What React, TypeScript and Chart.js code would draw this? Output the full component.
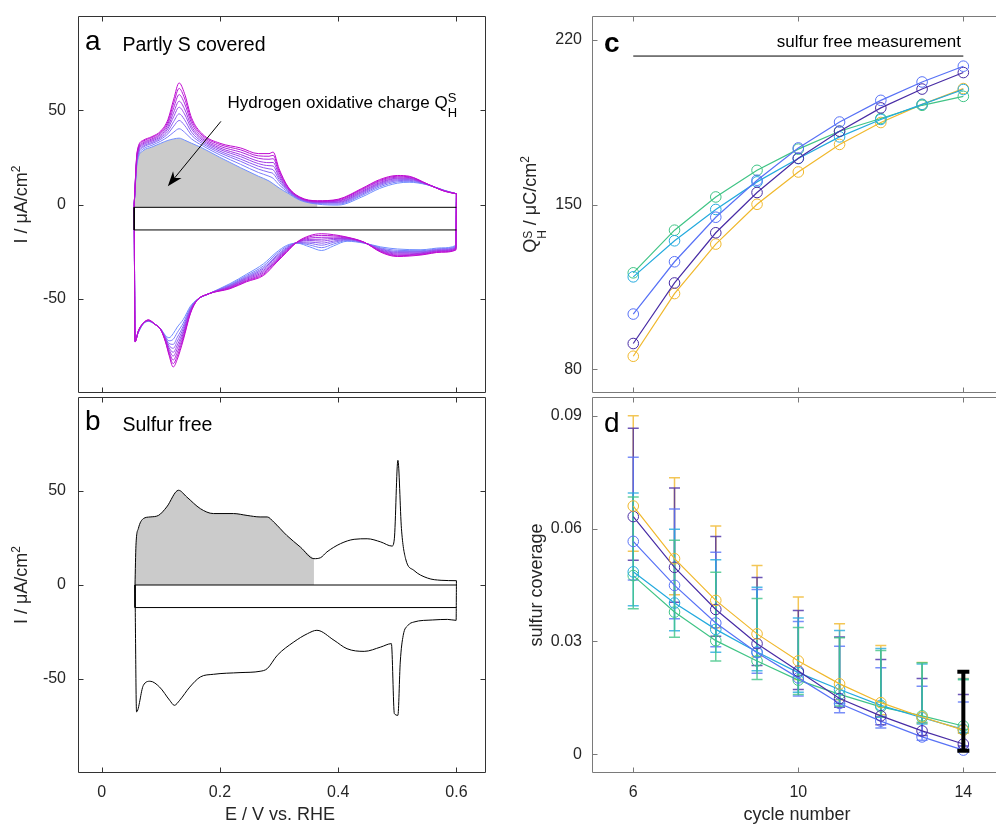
import React, { useEffect, useRef } from 'react';
import { Chart, registerables } from 'chart.js';

Chart.register(...registerables);

const W = 1020;
const H = 828;
const FONT = '"Liberation Sans", Arial, Helvetica, sans-serif';
const INK = '#262626';
Chart.defaults.font.family = FONT;

// ---------------- Panel a: partly S covered CVs (cycles 6..14) ----------------
const cvCycles = [6, 7, 8, 9, 10, 11, 12, 13, 14];
const anodicE = [0.055, 0.06, 0.07, 0.085, 0.1, 0.112, 0.122, 0.131, 0.14, 0.152, 0.17, 0.2, 0.235, 0.265, 0.283, 0.29, 0.3, 0.315, 0.335, 0.365, 0.4, 0.44, 0.47, 0.5, 0.52, 0.55, 0.58, 0.6];
const anodicC6 = [0, 22, 28.5, 30.5, 32.5, 34, 34.8, 35.2, 34.2, 32.5, 30, 25, 19.5, 15, 12.5, 11, 8.8, 6, 2.3, 0.2, -0.3, 4, 8.5, 11.3, 11.8, 10.5, 7.5, 5.7];
const anodicC7 = [0, 23.0, 29.4, 31.4, 33.6, 35.9, 38.4, 40.2, 38.4, 34.8, 31.3, 26.3, 21.3, 17.0, 15.0, 13.9, 10.5, 6.6, 2.6, 0.5, 0.2, 4.8, 9.3, 12.0, 12.3, 10.6, 7.4, 5.7];
const anodicC8 = [0, 23.9, 30.3, 32.3, 34.6, 37.5, 41.6, 44.6, 42.1, 36.8, 32.4, 27.4, 22.9, 18.8, 17.1, 16.4, 12.1, 7.1, 2.8, 0.8, 0.7, 5.4, 10.0, 12.6, 12.8, 10.7, 7.3, 5.7];
const anodicC9 = [0, 24.6, 30.9, 32.9, 35.4, 38.8, 44.1, 48.1, 45.1, 38.4, 33.3, 28.3, 24.1, 20.3, 18.9, 18.4, 13.3, 7.5, 3.0, 1.0, 1.1, 6.0, 10.6, 13.1, 13.2, 10.7, 7.3, 5.7];
const anodicC10 = [0, 25.4, 31.6, 33.6, 36.1, 40.2, 46.7, 51.6, 48.1, 40.1, 34.2, 29.2, 25.4, 21.7, 20.6, 20.4, 14.5, 8.0, 3.3, 1.2, 1.4, 6.5, 11.1, 13.6, 13.6, 10.8, 7.2, 5.7];
const anodicC11 = [0, 26.0, 32.2, 34.2, 36.9, 41.4, 49.0, 54.8, 50.8, 41.5, 35.0, 30.0, 26.5, 23.0, 22.2, 22.3, 15.6, 8.3, 3.4, 1.4, 1.8, 7.0, 11.6, 14.0, 13.9, 10.8, 7.2, 5.7];
const anodicC12 = [0, 26.7, 32.8, 34.8, 37.6, 42.7, 51.5, 58.3, 53.8, 43.2, 35.9, 30.9, 27.8, 24.5, 24.0, 24.3, 16.9, 8.8, 3.6, 1.6, 2.1, 7.6, 12.2, 14.5, 14.3, 10.9, 7.1, 5.7];
const anodicC13 = [0, 27.4, 33.5, 35.5, 38.4, 43.9, 53.9, 61.6, 56.5, 44.7, 36.8, 31.8, 29.0, 25.8, 25.6, 26.1, 18.0, 9.2, 3.8, 1.8, 2.5, 8.1, 12.7, 15.0, 14.7, 11.0, 7.1, 5.7];
const anodicC14 = [0, 28, 34, 36, 39, 45, 56, 64.5, 59, 46, 37.5, 32.5, 30, 27, 27, 27.8, 19, 9.5, 4, 2, 2.8, 8.5, 13.2, 15.4, 15, 11, 7, 5.7];

const cathodicE = [0.055, 0.0565, 0.062, 0.07, 0.079, 0.09, 0.1, 0.108, 0.114, 0.121, 0.128, 0.138, 0.15, 0.161, 0.18, 0.217, 0.245, 0.274, 0.295, 0.313, 0.33, 0.352, 0.372, 0.392, 0.415, 0.444, 0.472, 0.5, 0.54, 0.575, 0.599, 0.6];
const cathodicC6 = [0, -72, -68, -63.5, -62, -63.5, -66, -69.5, -70.7, -68.5, -65, -61, -54, -50.5, -47.5, -42, -37, -31.4, -25.5, -21.7, -20.5, -22.5, -24.4, -22, -19.5, -20.5, -22.5, -23.6, -24, -23, -21.7, 5.7];
const cathodicC7 = [0, -72.2, -67.8, -63.4, -61.9, -63.5, -66.1, -70.1, -72.3, -71.5, -67.9, -62.9, -54.7, -50.6, -47.5, -42.5, -37.7, -32.5, -26.4, -22.3, -20.4, -21.5, -22.9, -21.0, -19.1, -20.4, -23.0, -24.3, -24.5, -23.4, -22.1, 5.7];
const cathodicC8 = [0, -72.3, -67.7, -63.3, -61.7, -63.5, -66.2, -70.6, -73.7, -74.2, -70.4, -64.5, -55.3, -50.7, -47.5, -42.9, -38.3, -33.4, -27.3, -22.9, -20.3, -20.6, -21.6, -20.1, -18.8, -20.3, -23.4, -24.9, -24.9, -23.7, -22.5, 5.7];
const cathodicC9 = [0, -72.4, -67.6, -63.3, -61.6, -63.5, -66.2, -71.0, -74.8, -76.3, -72.5, -65.8, -55.8, -50.7, -47.5, -43.2, -38.8, -34.1, -27.9, -23.3, -20.3, -19.9, -20.5, -19.4, -18.5, -20.3, -23.7, -25.4, -25.2, -24.0, -22.8, 5.7];
const cathodicC10 = [0, -72.6, -67.4, -63.2, -61.6, -63.5, -66.3, -71.5, -75.9, -78.4, -74.5, -67.2, -56.2, -50.8, -47.5, -43.5, -39.2, -34.9, -28.6, -23.7, -20.2, -19.1, -19.4, -18.6, -18.3, -20.2, -24.1, -25.8, -25.6, -24.3, -23.1, 5.7];
const cathodicC11 = [0, -72.7, -67.3, -63.2, -61.5, -63.5, -66.3, -71.8, -76.9, -80.4, -76.4, -68.4, -56.7, -50.8, -47.5, -43.8, -39.7, -35.6, -29.2, -24.1, -20.2, -18.5, -18.4, -18.0, -18.0, -20.2, -24.4, -26.3, -25.9, -24.5, -23.4, 5.7];
const cathodicC12 = [0, -72.8, -67.2, -63.1, -61.4, -63.5, -66.4, -72.3, -78.0, -82.5, -78.4, -69.7, -57.2, -50.9, -47.5, -44.1, -40.2, -36.3, -29.8, -24.5, -20.1, -17.8, -17.4, -17.3, -17.8, -20.1, -24.7, -26.8, -26.2, -24.8, -23.7, 5.7];
const cathodicC13 = [0, -72.9, -67.1, -63.1, -61.3, -63.5, -66.5, -72.7, -79.1, -84.4, -80.3, -70.9, -57.6, -51.0, -47.5, -44.4, -40.6, -37.0, -30.5, -24.9, -20.1, -17.1, -16.4, -16.6, -17.5, -20.1, -25.0, -27.2, -26.5, -25.1, -23.9, 5.7];
const cathodicC14 = [0, -73, -67, -63, -61.2, -63.5, -66.5, -73, -80, -86.2, -82, -72, -58, -51, -47.5, -44.7, -41, -37.6, -31, -25.3, -20, -16.5, -15.5, -16, -17.3, -20, -25.3, -27.6, -26.8, -25.3, -24.2, 5.7];

const anodicAll = [anodicC6, anodicC7, anodicC8, anodicC9, anodicC10, anodicC11, anodicC12, anodicC13, anodicC14];
const cathodicAll = [cathodicC6, cathodicC7, cathodicC8, cathodicC9, cathodicC10, cathodicC11, cathodicC12, cathodicC13, cathodicC14];
const chargeFillEndA = 0.365; // upper potential limit of the shaded H-oxidation charge
const boxA = { left: 0.055, right: 0.6, top: -1.5, bottom: -13.5 };

// ---------------- Panel b: sulfur free CV ----------------
const freeAnodicE = [0.0564, 0.058, 0.062, 0.0705, 0.082, 0.096, 0.11, 0.13, 0.144, 0.167, 0.189, 0.223, 0.246, 0.268, 0.28, 0.291, 0.313, 0.336, 0.359, 0.37, 0.381, 0.404, 0.427, 0.449, 0.472, 0.491, 0.495, 0.501, 0.507, 0.514, 0.528, 0.551, 0.574, 0.6];
const freeAnodicI = [0, 21, 30, 35.3, 36.2, 37, 41.5, 50.4, 46.8, 40.6, 38, 38, 37, 36.2, 36.2, 33.5, 26.4, 20.2, 14, 14.5, 17.6, 22, 24.3, 24.6, 22.9, 20.7, 24.6, 66.3, 30, 14, 7.8, 3.7, 2.5, 2.3];
const freeCathodicE = [0.0564, 0.059, 0.0705, 0.082, 0.098, 0.115, 0.123, 0.132, 0.149, 0.167, 0.189, 0.234, 0.268, 0.28, 0.297, 0.325, 0.348, 0.364, 0.393, 0.415, 0.444, 0.472, 0.49, 0.495, 0.501, 0.505, 0.51, 0.518, 0.528, 0.56, 0.585, 0.5995, 0.6];
const freeCathodicI = [0, -67.5, -53.4, -51.2, -54.3, -61.3, -64, -61.3, -54.3, -48.9, -47.5, -46.6, -45.9, -44.5, -37.4, -30.3, -25.9, -24.1, -29.4, -33.9, -35.3, -33, -31.2, -68.4, -69.3, -41, -26.8, -21.5, -19.7, -18.6, -18.3, -18.8, 2.3];
const chargeFillEndB = 0.36;
const boxB = { left: 0.0564, right: 0.6, top: 0, bottom: -12 };

// ---------------- Panel c: Q_H^S vs cycle ----------------
const cycles = [6, 7, 8, 9, 10, 11, 12, 13, 14];
const qNavy = [91.0, 116.7, 138.0, 155.1, 169.6, 181.1, 191.0, 199.0, 206.0];
const qBlue = [103.5, 125.7, 144.6, 160.3, 174.0, 185.0, 194.2, 202.0, 208.7];
const qCyan = [119.3, 134.6, 147.9, 159.6, 169.5, 178.7, 186.1, 192.5, 198.8];
const qGreen = [121.0, 139.1, 153.2, 164.5, 173.5, 181.1, 186.5, 192.1, 195.9];
const qYellow = [85.6, 112.2, 133.2, 150.1, 163.8, 175.5, 184.8, 192.5, 199.2];
const qSulfurFree = 213;

// ---------------- Panel d: sulfur coverage vs cycle ----------------
const covNavy = [0.0632, 0.0497, 0.0385, 0.0294, 0.0221, 0.0148, 0.0102, 0.0062, 0.0027];
const covBlue = [0.0566, 0.0449, 0.0349, 0.0270, 0.0203, 0.0135, 0.0088, 0.0046, 0.0011];
const covCyan = [0.0485, 0.0402, 0.0332, 0.0272, 0.0217, 0.0172, 0.0130, 0.0097, 0.0066];
const covGreen = [0.0475, 0.0378, 0.0302, 0.0248, 0.0197, 0.0159, 0.0126, 0.0102, 0.0075];
const covYellow = [0.0660, 0.0520, 0.0409, 0.0320, 0.0248, 0.0187, 0.0137, 0.0099, 0.0064];
const covNavyHi = [0.0867, 0.0708, 0.0579, 0.0470, 0.0382, 0.0312, 0.0252, 0.0201, 0.0159];
const covNavyLo = [0.0516, 0.0404, 0.0314, 0.0236, 0.0172, 0.0125, 0.0078, 0.0050, 0.0022];
const covBlueHi = [0.0790, 0.0652, 0.0537, 0.0438, 0.0353, 0.0287, 0.0230, 0.0181, 0.0139];
const covBlueLo = [0.0463, 0.0360, 0.0286, 0.0215, 0.0155, 0.0110, 0.0070, 0.0037, 0.0008];
const covCyanHi = [0.0695, 0.0598, 0.0517, 0.0444, 0.0362, 0.0329, 0.0281, 0.0240, 0.0200];
const covCyanLo = [0.0395, 0.0328, 0.0271, 0.0222, 0.0165, 0.0135, 0.0100, 0.0080, 0.0058];
const covGreenHi = [0.0684, 0.0569, 0.0484, 0.0414, 0.0337, 0.0310, 0.0276, 0.0243, 0.0198];
const covGreenLo = [0.0387, 0.0311, 0.0248, 0.0199, 0.0159, 0.0128, 0.0098, 0.0085, 0.0066];
const covYellowHi = [0.0900, 0.0735, 0.0607, 0.0502, 0.0418, 0.0347, 0.0289, 0.0244, 0.0201];
const covYellowLo = [0.0540, 0.0424, 0.0336, 0.0260, 0.0199, 0.0145, 0.0105, 0.0082, 0.0056];
const sulfurFreeCycle = 14;
const sulfurFreeCovHi = 0.0219;
const sulfurFreeCovLo = 0.0009;

// ---------------- ticks ----------------
const ticksE = [0, 0.2, 0.4, 0.6];
const ticksI = [-50, 0, 50];
const ticksCycle = [6, 10, 14];
const ticksQ = [80, 150, 220];
const ticksCov = [0, 0.03, 0.06, 0.09];

// ---------------- styles ----------------
const cycleColors = [
  'rgb(112,142,255)', 'rgb(122,124,250)', 'rgb(132,106,245)', 'rgb(142,88,240)', 'rgb(152,71,234)',
  'rgb(162,55,228)', 'rgb(172,40,222)', 'rgb(182,24,215)', 'rgb(192,10,208)',
];
const C_NAVY = 'rgb(72,44,165)';
const C_BLUE = 'rgb(88,114,246)';
const C_CYAN = 'rgb(36,170,222)';
const C_GREEN = 'rgb(64,196,134)';
const C_YELLOW = 'rgb(240,184,44)';

const pts = (xs: number[], ys: number[]) => xs.map((x, i) => ({ x, y: ys[i] }));

function scalesFor(cfg: any) {
  const clearPad = (s: any) => { s.paddingLeft = 0; s.paddingRight = 0; s.paddingTop = 0; s.paddingBottom = 0; };
  return {
    x: {
      type: 'linear', min: cfg.xMin, max: cfg.xMax,
      afterBuildTicks: (s: any) => { s.ticks = cfg.xTicks.map((v: number) => ({ value: v })); },
      afterFit: (s: any) => { s.height = cfg.xH; clearPad(s); },
      grid: { display: false, drawTicks: false },
      border: { display: false },
      ticks: { display: cfg.showX, padding: 10, font: { size: 16, family: FONT }, color: INK, maxRotation: 0, autoSkip: false, callback: (v: any) => String(v) },
    },
    y: {
      type: 'linear', min: cfg.yMin, max: cfg.yMax,
      afterBuildTicks: (s: any) => { s.ticks = cfg.yTicks.map((v: number) => ({ value: v })); },
      afterFit: (s: any) => { s.width = cfg.yW; clearPad(s); },
      grid: { display: false, drawTicks: false },
      border: { display: false },
      ticks: { padding: cfg.yPad, font: { size: 16, family: FONT }, color: INK, autoSkip: false, callback: (v: any) => String(v) },
    },
  };
}

function frame(color: string, xTicks: number[], yTicks: number[]) {
  return {
    id: 'frame',
    afterDatasetsDraw(chart: any) {
      const { ctx, chartArea: a, scales } = chart;
      const L = Math.round(a.left) + 0.5, R = Math.round(a.right) - 0.5;
      const T = Math.round(a.top) + 0.5, B = Math.round(a.bottom) - 0.5;
      ctx.save();
      ctx.strokeStyle = color;
      ctx.lineWidth = 1;
      ctx.beginPath();
      ctx.rect(L, T, R - L, B - T);
      const tl = 5;
      xTicks.forEach((v) => {
        const p = Math.round(scales.x.getPixelForValue(v)) + 0.5;
        ctx.moveTo(p, T); ctx.lineTo(p, T + tl);
        ctx.moveTo(p, B); ctx.lineTo(p, B - tl);
      });
      yTicks.forEach((v) => {
        const p = Math.round(scales.y.getPixelForValue(v)) + 0.5;
        ctx.moveTo(L, p); ctx.lineTo(L + tl, p);
        ctx.moveTo(R, p); ctx.lineTo(R - tl, p);
      });
      ctx.stroke();
      ctx.restore();
    },
  };
}

function txt(ctx: any, s: string, x: number, y: number, size: number, align: CanvasTextAlign = 'left', bold = false, color = '#000') {
  ctx.save();
  ctx.font = `${bold ? 'bold ' : ''}${size}px ${FONT}`;
  ctx.fillStyle = color;
  ctx.textAlign = align;
  ctx.textBaseline = 'alphabetic';
  ctx.fillText(s, x, y);
  ctx.restore();
}

type Seg = { t: string; size: number; dy?: number; hold?: boolean };
function rich(ctx: any, segs: Seg[], x: number, y: number, rot: number, align: 'left' | 'center', color: string) {
  ctx.save();
  ctx.translate(x, y);
  ctx.rotate(rot);
  ctx.fillStyle = color;
  ctx.textAlign = 'left';
  ctx.textBaseline = 'alphabetic';
  const pos: number[] = [];
  let cx = 0, pend = 0;
  for (const s of segs) {
    ctx.font = `${s.size}px ${FONT}`;
    const w = ctx.measureText(s.t).width;
    pos.push(cx);
    if (s.hold) pend = Math.max(pend, w);
    else { cx += Math.max(w, pend); pend = 0; }
  }
  const off = align === 'center' ? cx / 2 : 0;
  segs.forEach((s, i) => {
    ctx.font = `${s.size}px ${FONT}`;
    ctx.fillText(s.t, pos[i] - off, s.dy || 0);
  });
  ctx.restore();
}

function arrow(ctx: any, x1: number, y1: number, x2: number, y2: number) {
  const ang = Math.atan2(y2 - y1, x2 - x1);
  const len = 15, half = 5.5;
  ctx.save();
  ctx.strokeStyle = '#000';
  ctx.fillStyle = '#000';
  ctx.lineWidth = 1;
  ctx.beginPath();
  ctx.moveTo(x1, y1);
  ctx.lineTo(x2 - Math.cos(ang) * 8, y2 - Math.sin(ang) * 8);
  ctx.stroke();
  const bx = x2 - Math.cos(ang) * len, by = y2 - Math.sin(ang) * len;
  const nx = -Math.sin(ang), ny = Math.cos(ang);
  ctx.beginPath();
  ctx.moveTo(x2, y2);
  ctx.lineTo(bx + nx * half, by + ny * half);
  ctx.lineTo(x2 - Math.cos(ang) * (len * 0.7), y2 - Math.sin(ang) * (len * 0.7));
  ctx.lineTo(bx - nx * half, by - ny * half);
  ctx.closePath();
  ctx.fill();
  ctx.restore();
}

const currentTitle: Seg[] = [
  { t: 'I / \u03bcA/cm', size: 18 },
  { t: '2', size: 12, dy: -7 },
];

function baseOptions(scales: any, padding: any, plugins: any = {}) {
  return {
    animation: false,
    responsive: false,
    maintainAspectRatio: false,
    devicePixelRatio: 1,
    events: [],
    layout: { padding },
    plugins: { legend: { display: false }, tooltip: { enabled: false }, ...plugins },
    scales,
  };
}

const cvLine = (data: any[], color: string, order: number, width = 1) => ({
  data, borderColor: color, borderWidth: width, pointRadius: 0, fill: false,
  cubicInterpolationMode: 'monotone', order,
});

// ---------------- Chart builders ----------------
function makeA(cv: HTMLCanvasElement) {
  const datasets: any[] = [];
  cvCycles.forEach((_, k) => {
    datasets.push(cvLine(pts(anodicE, anodicAll[k]), cycleColors[k], 10 - k));
    datasets.push(cvLine(pts(cathodicE, cathodicAll[k]), cycleColors[k], 10 - k));
  });
  const fillPts = pts(anodicE, anodicC6).filter((p) => p.x <= chargeFillEndA);
  datasets.push({
    data: fillPts, borderWidth: 0, borderColor: 'rgba(0,0,0,0)', pointRadius: 0,
    backgroundColor: '#cbcbcb', fill: { value: boxA.top }, cubicInterpolationMode: 'monotone', order: 100,
  });
  datasets.push({
    data: [{ x: boxA.right, y: boxA.top }, { x: boxA.left, y: boxA.top }, { x: boxA.left, y: boxA.bottom }, { x: boxA.right, y: boxA.bottom }],
    borderColor: '#000', borderWidth: 1, pointRadius: 0, fill: false, order: 0,
  });
  const texts = {
    id: 'textsA',
    afterDraw(chart: any) {
      const { ctx, scales } = chart;
      txt(ctx, 'a', 85, 50, 28);
      txt(ctx, 'Partly S covered', 122.5, 51, 19.5);
      rich(ctx, [
        { t: 'Hydrogen oxidative charge Q', size: 17 },
        { t: 'S', size: 13, dy: -6.6, hold: true },
        { t: 'H', size: 13, dy: 8.4 },
      ], 227.5, 108.3, 0, 'left', '#000');
      arrow(ctx, scales.x.getPixelForValue(0.2017), scales.y.getPixelForValue(44.1),
        scales.x.getPixelForValue(0.1119), scales.y.getPixelForValue(9.7));
      rich(ctx, currentTitle, 27, 204.5, -Math.PI / 2, 'center', INK);
    },
  };
  return new Chart(cv, {
    type: 'line',
    data: { datasets },
    options: baseOptions(scalesFor({ xMin: -0.04, xMax: 0.65, xTicks: ticksE, showX: false, xH: H - 393, yMin: -100, yMax: 100, yTicks: ticksI, yW: 78, yPad: 12 }),
      { left: 0, top: 16, right: W - 486, bottom: 0 }) as any,
    plugins: [frame('#333333', ticksE, ticksI), texts],
  } as any);
}

function makeB(cv: HTMLCanvasElement) {
  const fillPts = pts(freeAnodicE, freeAnodicI).filter((p) => p.x <= chargeFillEndB);
  const datasets: any[] = [
    cvLine(pts(freeAnodicE, freeAnodicI), '#000', 1),
    cvLine(pts(freeCathodicE, freeCathodicI), '#000', 1),
    {
      data: fillPts, borderWidth: 0, borderColor: 'rgba(0,0,0,0)', pointRadius: 0,
      backgroundColor: '#cbcbcb', fill: { value: boxB.top }, cubicInterpolationMode: 'monotone', order: 100,
    },
    {
      data: [{ x: boxB.right, y: boxB.top }, { x: boxB.left, y: boxB.top }, { x: boxB.left, y: boxB.bottom }, { x: boxB.right, y: boxB.bottom }],
      borderColor: '#000', borderWidth: 1, pointRadius: 0, fill: false, order: 0,
    },
  ];
  const texts = {
    id: 'textsB',
    afterDraw(chart: any) {
      const { ctx } = chart;
      txt(ctx, 'b', 85, 430, 28);
      txt(ctx, 'Sulfur free', 122.5, 431, 19.5);
      rich(ctx, currentTitle, 27, 585, -Math.PI / 2, 'center', INK);
      txt(ctx, 'E / V vs. RHE', 280, 820, 18, 'center', false, INK);
    },
  };
  return new Chart(cv, {
    type: 'line',
    data: { datasets },
    options: baseOptions(scalesFor({ xMin: -0.04, xMax: 0.65, xTicks: ticksE, showX: true, xH: H - 773, yMin: -100, yMax: 100, yTicks: ticksI, yW: 78, yPad: 12 }),
      { left: 0, top: 397, right: W - 486, bottom: 0 }) as any,
    plugins: [frame('#333333', ticksE, ticksI), texts],
  } as any);
}

const markerLine = (vals: number[], color: string) => ({
  data: pts(cycles, vals), borderColor: color, borderWidth: 1.2, pointRadius: 5.3,
  pointBorderWidth: 1, pointBorderColor: color, pointBackgroundColor: 'rgba(0,0,0,0)', fill: false,
});

function makeC(cv: HTMLCanvasElement) {
  const datasets: any[] = [
    markerLine(qBlue, C_BLUE),
    markerLine(qNavy, C_NAVY),
    markerLine(qCyan, C_CYAN),
    markerLine(qGreen, C_GREEN),
    markerLine(qYellow, C_YELLOW),
    { data: [{ x: cycles[0], y: qSulfurFree }, { x: cycles[cycles.length - 1], y: qSulfurFree }], borderColor: '#000', borderWidth: 1, pointRadius: 0, fill: false },
  ];
  const texts = {
    id: 'textsC',
    afterDraw(chart: any) {
      const { ctx } = chart;
      txt(ctx, 'c', 604, 52, 28, 'left', true);
      txt(ctx, 'sulfur free measurement', 961, 47, 17, 'right');
      rich(ctx, [
        { t: 'Q', size: 18 },
        { t: 'S', size: 12, dy: -4.5, hold: true },
        { t: 'H', size: 12, dy: 10 },
        { t: ' / \u03bcC/cm', size: 18 },
        { t: '2', size: 12, dy: -7 },
      ], 536, 204.5, -Math.PI / 2, 'center', INK);
    },
  };
  return new Chart(cv, {
    type: 'line',
    data: { datasets },
    options: baseOptions(scalesFor({ xMin: 5, xMax: 15, xTicks: ticksCycle, showX: false, xH: H - 393, yMin: 70, yMax: 230, yTicks: ticksQ, yW: 592, yPad: 10 }),
      { left: 0, top: 16, right: W - 1004.6, bottom: 0 }) as any,
    plugins: [frame('#7a7a7a', ticksCycle, ticksQ), texts],
  } as any);
}

function makeD(cv: HTMLCanvasElement) {
  const series = [
    { c: C_YELLOW, v: covYellow, hi: covYellowHi, lo: covYellowLo },
    { c: C_NAVY, v: covNavy, hi: covNavyHi, lo: covNavyLo },
    { c: C_BLUE, v: covBlue, hi: covBlueHi, lo: covBlueLo },
    { c: C_CYAN, v: covCyan, hi: covCyanHi, lo: covCyanLo },
    { c: C_GREEN, v: covGreen, hi: covGreenHi, lo: covGreenLo },
  ];
  const datasets: any[] = series.map((s) => markerLine(s.v, s.c));
  const errBars = {
    id: 'errBars',
    beforeDatasetsDraw(chart: any) {
      const { ctx, chartArea: a, scales: { x, y } } = chart;
      ctx.save();
      ctx.beginPath();
      ctx.rect(a.left, a.top, a.width, a.height);
      ctx.clip();
      ctx.lineWidth = 1.5;
      ctx.globalAlpha = 0.8;
      series.forEach((s) => {
        ctx.strokeStyle = s.c;
        cycles.forEach((cy, i) => {
          const px = x.getPixelForValue(cy);
          const yh = y.getPixelForValue(s.hi[i]);
          const yl = y.getPixelForValue(s.lo[i]);
          ctx.beginPath();
          ctx.moveTo(px, yh); ctx.lineTo(px, yl);
          ctx.moveTo(px - 5.5, yh); ctx.lineTo(px + 5.5, yh);
          ctx.moveTo(px - 5.5, yl); ctx.lineTo(px + 5.5, yl);
          ctx.stroke();
        });
      });
      ctx.restore();
    },
    afterDatasetsDraw(chart: any) {
      const { ctx, scales: { x, y } } = chart;
      const px = x.getPixelForValue(sulfurFreeCycle);
      const yh = y.getPixelForValue(sulfurFreeCovHi);
      const yl = y.getPixelForValue(sulfurFreeCovLo);
      ctx.save();
      ctx.strokeStyle = '#000';
      ctx.lineWidth = 4;
      ctx.beginPath();
      ctx.moveTo(px, yh); ctx.lineTo(px, yl);
      ctx.moveTo(px - 6, yh); ctx.lineTo(px + 6, yh);
      ctx.moveTo(px - 6, yl); ctx.lineTo(px + 6, yl);
      ctx.stroke();
      ctx.restore();
    },
  };
  const texts = {
    id: 'textsD',
    afterDraw(chart: any) {
      const { ctx } = chart;
      txt(ctx, 'd', 604, 432, 28);
      rich(ctx, [{ t: 'sulfur coverage', size: 18 }], 542, 585, -Math.PI / 2, 'center', INK);
      txt(ctx, 'cycle number', 797, 820, 18, 'center', false, INK);
    },
  };
  return new Chart(cv, {
    type: 'line',
    data: { datasets },
    options: baseOptions(scalesFor({ xMin: 5, xMax: 15, xTicks: ticksCycle, showX: true, xH: H - 773, yMin: -0.005, yMax: 0.095, yTicks: ticksCov, yW: 592, yPad: 10 }),
      { left: 0, top: 397, right: W - 1004.6, bottom: 0 }) as any,
    plugins: [errBars, frame('#7a7a7a', ticksCycle, ticksCov), texts],
  } as any);
}

function ChartCanvas({ make }: { make: (c: HTMLCanvasElement) => Chart }) {
  const ref = useRef<HTMLCanvasElement>(null);
  useEffect(() => {
    const chart = make(ref.current as HTMLCanvasElement);
    return () => chart.destroy();
  }, [make]);
  return (
    <canvas
      ref={ref}
      width={W}
      height={H}
      style={{ position: 'absolute', left: 0, top: 0, width: W, height: H }}
    />
  );
}

export default function App() {
  return (
    <div style={{ position: 'fixed', left: 0, top: 0, width: 996, height: 828, overflow: 'hidden', background: '#fff' }}>
      <ChartCanvas make={makeA} />
      <ChartCanvas make={makeB} />
      <ChartCanvas make={makeC} />
      <ChartCanvas make={makeD} />
    </div>
  );
}
